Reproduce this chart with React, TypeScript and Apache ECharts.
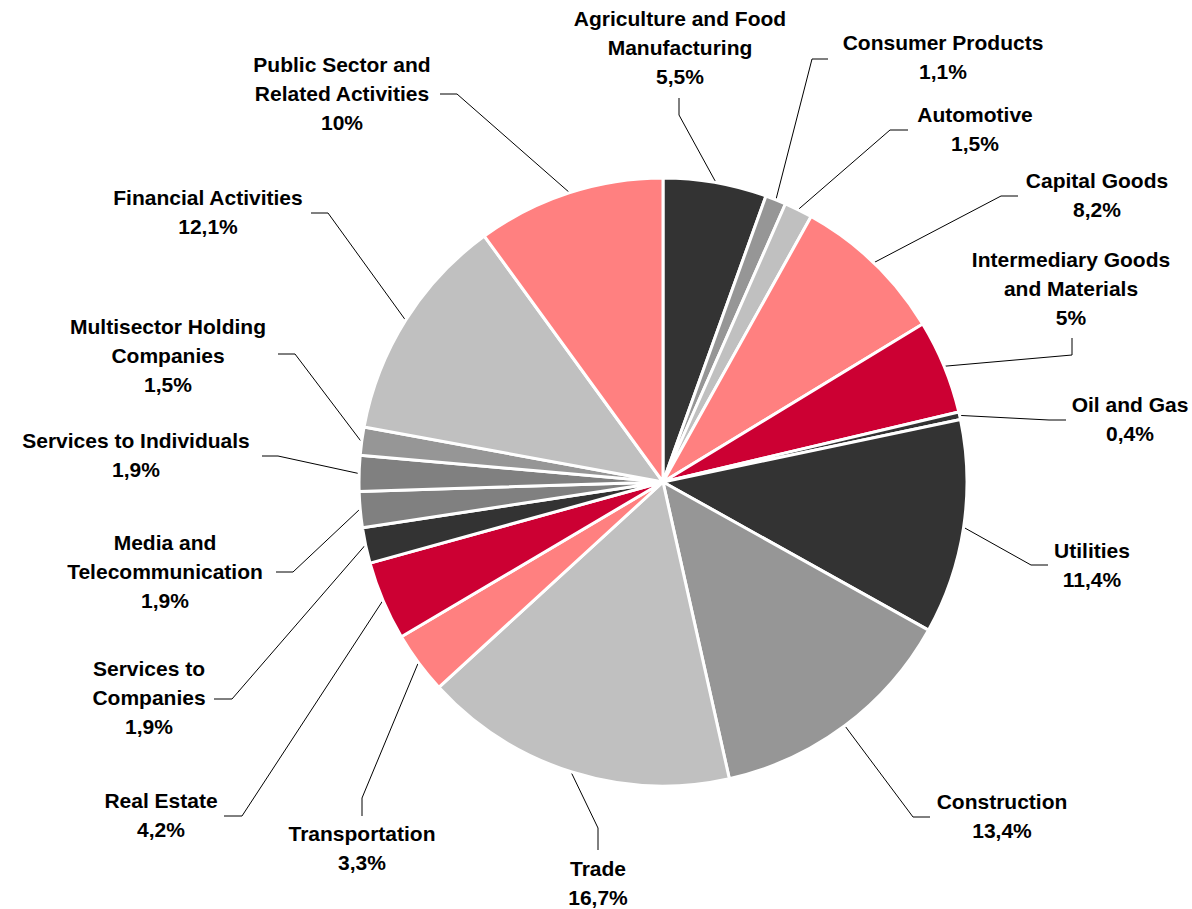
import React, { useEffect, useRef } from 'react';
import * as echarts from 'echarts';

// ---- data ----
const categories: string[] = [
  'Agriculture and Food\nManufacturing',
  'Consumer Products',
  'Automotive',
  'Capital Goods',
  'Intermediary Goods\nand Materials',
  'Oil and Gas',
  'Utilities',
  'Construction',
  'Trade',
  'Transportation',
  'Real Estate',
  'Services to\nCompanies',
  'Media and\nTelecommunication',
  'Services to Individuals',
  'Multisector Holding\nCompanies',
  'Financial Activities',
  'Public Sector and\nRelated Activities',
];
const shares: number[] = [5.5, 1.1, 1.5, 8.2, 5, 0.4, 11.4, 13.4, 16.7, 3.3, 4.2, 1.9, 1.9, 1.9, 1.5, 12.1, 10];

// ---- styles / layout ----
const sliceColors: string[] = [
  '#333333', '#969696', '#C0C0C0', '#FF8080', '#CC0033', '#333333', '#333333',
  '#969696', '#C0C0C0', '#FF8080', '#CC0033', '#333333', '#808080', '#808080',
  '#969696', '#C0C0C0', '#FF8080',
];
// label block centers
const labelCenters: number[][] = [
  [680, 47.5], [943, 57], [975, 128.5], [1097, 195], [1071, 288], [1130, 418.5],
  [1092, 564.5], [1002, 816], [598, 882.5], [362, 848], [161, 814.5], [149, 697.5],
  [165, 571], [136, 455], [168, 355], [208, 212], [342, 93],
];
const labelElbows: number[][] = [
  [679, 115], [812, 59], [890, 130], [1001, 196], [1072, 355], [1049, 420],
  [1031, 565], [913, 817], [598, 828], [362, 798], [242, 816], [232, 699],
  [293, 572], [278, 456], [295, 354], [328, 213], [457, 94],
];
const labelEnds: number[][] = [
  [679, 98], [828, 59], [908, 130], [1018, 196], [1072, 338], [1066, 420],
  [1048, 565], [930, 817], [598, 850], [362, 816], [224, 816], [214, 699],
  [276, 572], [262, 456], [278, 354], [311, 213], [440, 94],
];

const fmt = (v: number) => String(v).replace('.', ',') + '%';

export default function App() {
  const ref = useRef<HTMLDivElement>(null);
  useEffect(() => {
    if (!ref.current) return;
    const chart = echarts.init(ref.current, null, { renderer: 'svg' });
    const cx = 663;
    const cy = 482;
    const r = 304;
    const total = shares.reduce((a, b) => a + b, 0);
    let acc = 0;
    const mids = shares.map((v) => {
      const m = ((acc + v / 2) / total) * 2 * Math.PI;
      acc += v;
      return m;
    });
    chart.setOption({
      animation: false,
      backgroundColor: '#ffffff',
      series: [
        {
          type: 'pie',
          center: [cx, cy],
          radius: r,
          startAngle: 90,
          clockwise: true,
          avoidLabelOverlap: false,
          emphasis: { disabled: true },
          data: categories.map((name, i) => ({
            name,
            value: shares[i],
            itemStyle: { color: sliceColors[i] },
          })),
          itemStyle: { borderColor: '#ffffff', borderWidth: 3 },
          label: {
            show: true,
            position: 'outside',
            formatter: (p: any) => `${p.name}\n${fmt(p.value)}`,
            fontFamily: '"Liberation Sans", Arial, sans-serif',
            fontSize: 21,
            fontWeight: 'bold',
            color: '#000000',
            lineHeight: 29,
            align: 'center',
          },
          labelLine: {
            show: true,
            length: 10,
            length2: 10,
            lineStyle: { color: '#000000', width: 1 },
          },
          labelLayout: (p: any) => {
            const i = p.dataIndex;
            const a = mids[i];
            const sx = cx + (r + 1) * Math.sin(a);
            const sy = cy - (r + 1) * Math.cos(a);
            return {
              x: labelCenters[i][0],
              y: labelCenters[i][1],
              align: 'center',
              verticalAlign: 'middle',
              labelLinePoints: [[sx, sy], labelElbows[i], labelEnds[i]],
            };
          },
        },
      ],
    });
    return () => chart.dispose();
  }, []);
  return (
    <div
      ref={ref}
      style={{ position: 'absolute', left: 0, top: 0, width: 1192, height: 909 }}
    />
  );
}
